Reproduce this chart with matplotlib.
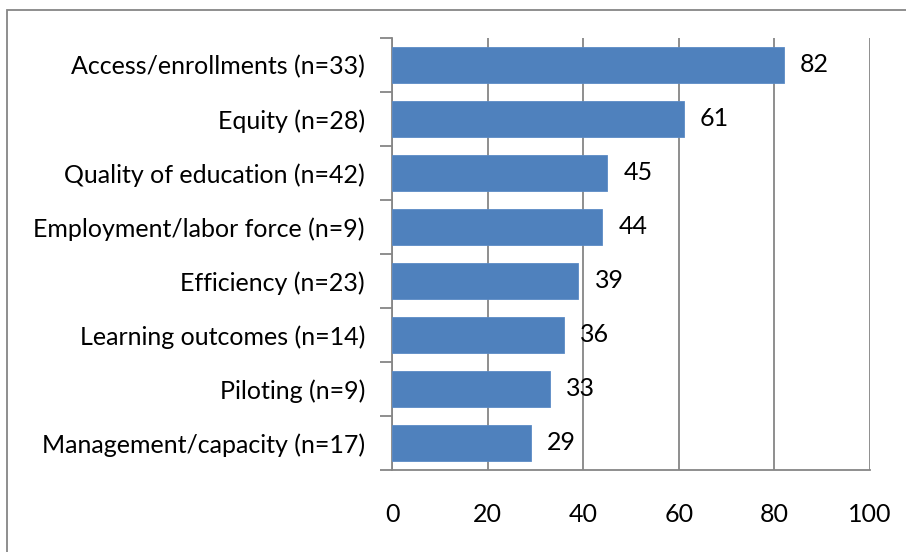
import matplotlib.pyplot as plt
import matplotlib.patches as mpatches

categories = ['Access/enrollments (n=33)', 'Equity (n=28)', 'Quality of education (n=42)',
              'Employment/labor force (n=9)', 'Efficiency (n=23)', 'Learning outcomes (n=14)',
              'Piloting (n=9)', 'Management/capacity (n=17)']
values = [82, 61, 45, 44, 39, 36, 33, 29]
xticks = [0, 20, 40, 60, 80, 100]

plt.rcParams['font.family'] = ['Lato', 'DejaVu Sans']
FS = 18

W, H = 906, 552
fig = plt.figure(figsize=(W / 100, H / 100), dpi=100)
ax = fig.add_axes([392 / W, 1 - 470 / H, (870 - 392) / W, (470 - 38) / H])

# chart border (top/left visible, rest runs off the image)
fig.patches.append(mpatches.Rectangle((7 / W, -0.1), 1.2, 1 - 10 / H + 0.1,
                                      transform=fig.transFigure, fill=False,
                                      edgecolor='#868686', linewidth=1.3))

n = len(categories)
ypos = list(range(n))
ax.barh(ypos, values, height=0.67, color='#4F81BD', edgecolor='#5B8BC6', linewidth=0.6, zorder=3)
ax.set_ylim(n - 0.5, -0.5)
ax.set_xlim(0, 100)

for y, v in zip(ypos, values):
    ax.text(v + 3.4, y, str(v), va='center', ha='left', fontsize=FS, color='black', zorder=4)

ax.set_xticks(xticks)
ax.set_xticklabels([str(t) for t in xticks], fontsize=FS)
ax.set_yticks(ypos)
ax.set_yticklabels(categories, fontsize=FS)
ax.tick_params(axis='y', length=0, pad=19.5)
ax.tick_params(axis='x', length=0, pad=24)

# boundary tick marks on y axis and ticks below x axis
ax.set_yticks([i - 0.5 for i in range(n + 1)], minor=True)
ax.set_xticks(xticks, minor=True)
ax.tick_params(axis='y', which='minor', length=9, width=1.3, color='#868686')
ax.tick_params(axis='x', which='minor', length=8, width=1.3, color='#868686')

ax.grid(axis='x', color='#868686', linewidth=1.3, zorder=0)
for s in ['top', 'right']:
    ax.spines[s].set_visible(False)
for s in ['left', 'bottom']:
    ax.spines[s].set_color('#868686')
    ax.spines[s].set_linewidth(1.3)

fig.savefig('out.png', dpi=100)
